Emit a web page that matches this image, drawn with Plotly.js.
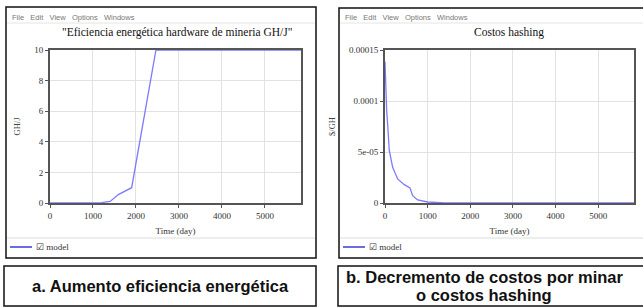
<!DOCTYPE html>
<html><head><meta charset="utf-8">
<script src="https://cdn.plot.ly/plotly-3.0.1.min.js"></script>
<style>html,body{margin:0;padding:0;background:#fff;}#c{width:643px;height:308px;}</style>
</head><body><div id="c"></div>
<script>
// Data
const effDays = [0, 1000, 1200, 1400, 1590, 1900, 2465, 5840];
const effVals = [0, 0, 0.03, 0.1, 0.55, 1.0, 10, 10];
const costDays = [0, 10, 23, 40, 61, 100, 180, 296, 453, 587, 648, 765, 1000, 1400, 5840];
const costVals = [1.385e-4, 1.2e-4, 1.0e-4, 9.0e-5, 7.8e-5, 5.15e-5, 3.5e-5, 2.36e-5, 1.8e-5, 1.48e-5, 7.2e-6, 3e-6, 1e-6, 0, 0];
const xTicks = [0, 1000, 2000, 3000, 4000, 5000];
const effTicks = [0, 2, 4, 6, 8, 10];
const costTickVals = [0, 5e-5, 1e-4, 1.5e-4];
const costTickText = ["0", "5e-05", "0.0001", "0.00015"];

const W = 643, H = 308;
const px = x => x / W, py = y => 1 - y / H;
const serif = "Liberation Serif, Times New Roman, serif";
const sans = "Liberation Sans, Arial, sans-serif";
const lineCol = "#7b7bff";

const traces = [
  {x: effDays, y: effVals, xaxis: "x", yaxis: "y", mode: "lines", line: {color: lineCol, width: 1.3}, showlegend: false, hoverinfo: "skip"},
  {x: costDays, y: costVals, xaxis: "x2", yaxis: "y2", mode: "lines", line: {color: lineCol, width: 1.3}, showlegend: false, hoverinfo: "skip"}
];

function xax(domain) {
  return {domain: domain, range: [0, 5840], tickvals: xTicks, ticktext: xTicks.map(String),
    showline: true, mirror: true, linecolor: "#555", linewidth: 2, showgrid: true, gridcolor: "#e2e2e2",
    zeroline: false, ticks: "outside", ticklen: 3, tickcolor: "#555",
    tickfont: {family: serif, size: 9, color: "#333"},
    title: {text: "Time (day)", font: {family: serif, size: 9, color: "#333"}, standoff: 8}};
}
function yax(domain, range, tv, tt, title) {
  return {domain: domain, range: range, tickvals: tv, ticktext: tt,
    showline: true, mirror: true, linecolor: "#555", linewidth: 2, showgrid: true, gridcolor: "#e2e2e2",
    zeroline: false, ticks: "outside", ticklen: 3, tickcolor: "#555",
    tickfont: {family: serif, size: 9, color: "#333"},
    title: {text: title, font: {family: serif, size: 8.5, color: "#444"}, standoff: 12}};
}

const yd = [py(203), py(50)];
const ln = (x0, x1, y0, y1, color, width) => ({type: "line", xref: "paper", yref: "paper", x0: px(x0), x1: px(x1), y0: py(y0), y1: py(y1), line: {color: color, width: width}});
const box = (x0, x1, y0, y1) => ({type: "rect", xref: "paper", yref: "paper", x0: px(x0), x1: px(x1), y0: py(y1), y1: py(y0), line: {color: "#111", width: 1.5}});
const ann = (x, y, text, font, xanchor) => ({xref: "paper", yref: "paper", x: px(x), y: py(y), xanchor: xanchor || "center", yanchor: "middle", showarrow: false, text: text, font: font});
const menu = "File&nbsp;&nbsp;&nbsp;Edit&nbsp;&nbsp;&nbsp;View&nbsp;&nbsp;&nbsp;Options&nbsp;&nbsp;&nbsp;Windows";

const layout = {
  width: W, height: H, margin: {l: 0, r: 0, t: 0, b: 0},
  paper_bgcolor: "#fff", plot_bgcolor: "#fff", showlegend: false,
  xaxis: Object.assign(xax([px(50), px(301)]), {anchor: "y"}),
  yaxis: Object.assign(yax(yd, [0, 10], effTicks, effTicks.map(String), "GH/J"), {anchor: "x"}),
  xaxis2: Object.assign(xax([px(385), px(634)]), {anchor: "y2"}),
  yaxis2: Object.assign(yax(yd, [0, 1.5e-4], costTickVals, costTickText, "$/GH"), {anchor: "x2"}),
  shapes: [
    box(6, 316, 7, 258),
    box(339, 646, 8, 258),
    ln(7, 315, 23, 23, "#e4e4e4", 1),
    ln(340, 643, 23, 23, "#e4e4e4", 1),
    ln(7, 315, 238, 238, "#dcdcdc", 1),
    ln(340, 643, 238, 238, "#dcdcdc", 1),
    ln(10, 32, 247, 247, "#3a3ad8", 1.5),
    ln(343, 365, 247, 247, "#3a3ad8", 1.5),
    box(4, 316, 266, 306),
    box(338, 646, 266, 306)
  ],
  annotations: [
    ann(10, 17, menu, {family: sans, size: 7.5, color: "#777"}, "left"),
    ann(343, 17, menu, {family: sans, size: 7.5, color: "#777"}, "left"),
    ann(177, 33, "\"Eficiencia energética hardware de mineria GH/J\"", {family: serif, size: 11.5, color: "#111"}),
    ann(509, 33, "Costos hashing", {family: serif, size: 11.5, color: "#111"}),
    ann(34, 247, "☑ model", {family: serif, size: 9, color: "#333"}, "left"),
    ann(367, 247, "☑ model", {family: serif, size: 9, color: "#333"}, "left"),
    ann(160, 286, "<b>a. Aumento eficiencia energética</b>", {family: sans, size: 16.5, color: "#111"}),
    ann(344, 277, "<b>b. Decremento de costos por minar</b>", {family: sans, size: 16.5, color: "#111"}, "left"),
    ann(484, 295, "<b>o costos hashing</b>", {family: sans, size: 16.5, color: "#111"})
  ]
};
Plotly.newPlot("c", traces, layout, {staticPlot: true, displayModeBar: false});
</script></body></html>
